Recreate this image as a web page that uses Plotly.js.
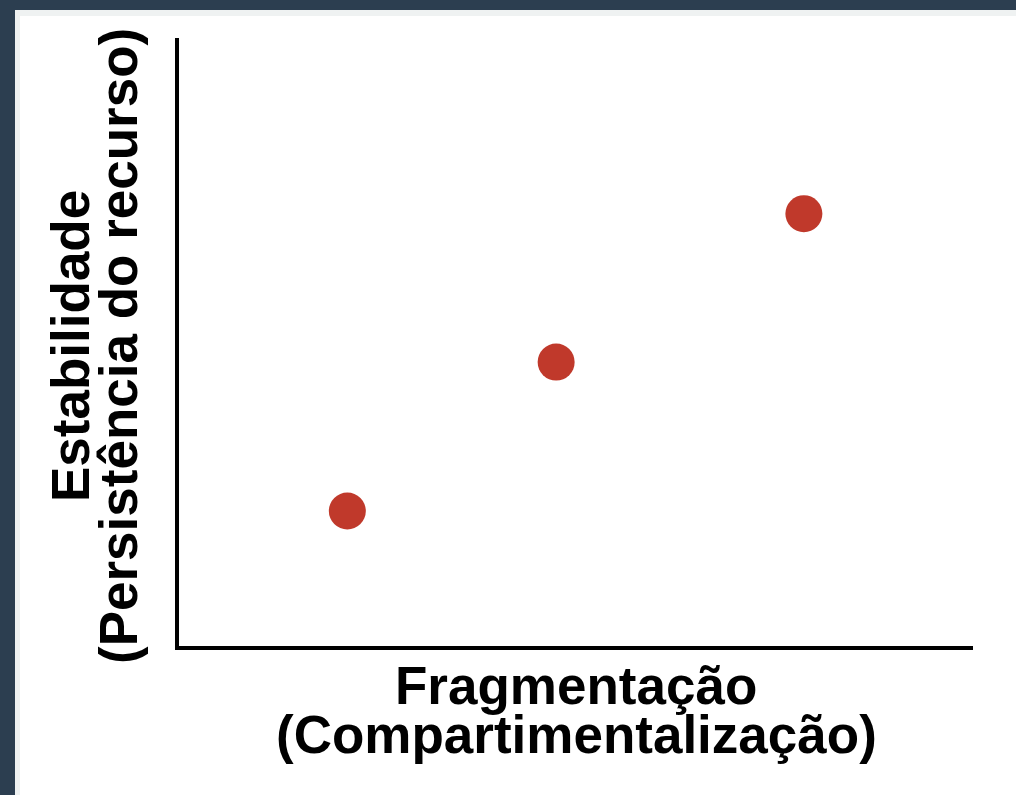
<!DOCTYPE html>
<html>
<head>
<meta charset="utf-8">
<script src="https://cdn.plot.ly/plotly-3.0.1.min.js"></script>
<style>
  html, body { margin: 0; padding: 0; background: #2c3e50; width: 1016px; height: 795px; overflow: hidden; }
  #frame { position: absolute; left: 15px; top: 10px; width: 1001px; height: 785px; background: #eff2f2; }
  #chart { position: absolute; left: 20px; top: 16px; width: 996px; height: 779px; background: #ffffff; }
</style>
</head>
<body>
<div id="frame"></div>
<div id="chart"></div>
<script>
// Data (axes are unitless, range 0–10)
const fragmentacao = [2.12, 4.75, 7.87];
const estabilidade = [2.22, 4.67, 7.11];

const xTitleLines = ["Fragmentação", "(Compartimentalização)"];
const yTitleLines = ["Estabilidade", "(Persistência do recurso)"];

const titleFont = { family: "Liberation Sans, Arial, Helvetica, sans-serif", size: 53, color: "#000000", weight: 700 };

const trace = {
  type: "scatter",
  mode: "markers",
  x: fragmentacao,
  y: estabilidade,
  marker: { size: 37, color: "#c0392b", line: { width: 0 } },
  hoverinfo: "x+y"
};

const layout = {
  width: 996,
  height: 779,
  margin: { l: 159, r: 43, t: 22, b: 149 },
  paper_bgcolor: "#ffffff",
  plot_bgcolor: "#ffffff",
  showlegend: false,
  xaxis: {
    range: [0, 10],
    showline: true, linecolor: "#000000", linewidth: 4,
    showgrid: false, zeroline: false, showticklabels: false, ticks: "",
    fixedrange: true
  },
  yaxis: {
    range: [0, 10],
    showline: true, linecolor: "#000000", linewidth: 4,
    showgrid: false, zeroline: false, showticklabels: false, ticks: "",
    fixedrange: true
  },
  annotations: [
    { text: "<b>" + xTitleLines[0] + "</b>", xref: "paper", yref: "paper", x: 0.5, y: 0,
      xanchor: "center", yanchor: "middle", yshift: -39, showarrow: false, font: titleFont },
    { text: "<b>" + xTitleLines[1] + "</b>", xref: "paper", yref: "paper", x: 0.5, y: 0,
      xanchor: "center", yanchor: "middle", yshift: -88, showarrow: false, font: titleFont },
    { text: "<b>" + yTitleLines[0] + "</b>", xref: "paper", yref: "paper", x: 0, y: 0.5,
      xanchor: "center", yanchor: "middle", xshift: -109, yshift: -4, textangle: -90, showarrow: false, font: titleFont },
    { text: "<b>" + yTitleLines[1] + "</b>", xref: "paper", yref: "paper", x: 0, y: 0.5,
      xanchor: "center", yanchor: "middle", xshift: -61, yshift: -4, textangle: -90, showarrow: false, font: titleFont }
  ]
};

Plotly.newPlot("chart", [trace], layout, { displayModeBar: false, staticPlot: true });
</script>
</body>
</html>
